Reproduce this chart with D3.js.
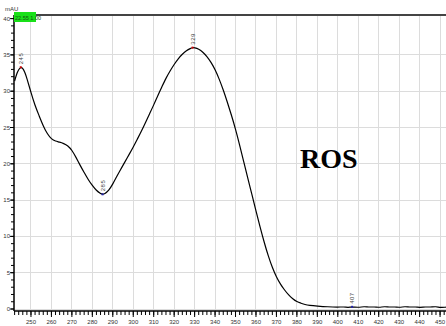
<!DOCTYPE html>
<html><head><meta charset="utf-8">
<script src="https://cdn.jsdelivr.net/npm/d3@7"></script>
<style>body{margin:0;background:#fff}svg{display:block}</style>
</head><body><svg id="c" width="446" height="326"></svg>
<script>
const wavelengths = [242,243,244,245,246,247,248,250,252,254,256,258,260,262,264,266,268,270,272,274,276,278,280,282,284,285,286,288,290,292,294,296,298,300,302,304,306,308,310,312,314,316,318,320,322,324,326,328,329,330,332,334,336,338,340,342,344,346,348,350,352,354,356,358,360,362,364,366,368,370,372,374,376,378,380,382,384,386,390,395,400,403,405,407,410,413,415,418,420,423,425,428,430,433,435,438,440,443,445,448,450,453];
const absorbance = [31.4,32.4,33.0,33.3,33.2,32.6,31.8,29.8,28.0,26.6,25.2,24.1,23.4,23.1,23.0,22.8,22.5,21.9,20.9,19.8,18.8,17.8,17.0,16.3,15.9,15.8,15.85,16.3,17.2,18.3,19.3,20.3,21.3,22.3,23.4,24.5,25.7,26.9,28.1,29.4,30.6,31.8,32.8,33.7,34.5,35.1,35.6,35.9,36.0,36.0,35.8,35.4,34.8,34.0,33.0,31.7,30.2,28.5,26.7,24.8,22.6,20.3,18.0,15.8,13.5,11.3,9.2,7.3,5.7,4.4,3.4,2.6,1.9,1.4,1.0,0.8,0.6,0.5,0.4,0.3,0.25,0.3,0.2,0.3,0.2,0.35,0.25,0.3,0.2,0.35,0.25,0.3,0.2,0.35,0.25,0.3,0.2,0.3,0.25,0.35,0.2,0.25];
const peakLabels = ["245","285","329","407"];
const peakWl = [245,285,329,407];
const xTicks = [250,260,270,280,290,300,310,320,330,340,350,360,370,380,390,400,410,420,430,440,450];
const yTicks = [0,5,10,15,20,25,30,35,40];
const unitLabel = "mAU";
const sampleLabel = "ROS";
const timeLabel = "22.55 1.00";

const svg = d3.select("#c");
const x = d3.scaleLinear().domain([241.7, 452.9]).range([14, 446]);
const y = d3.scaleLinear().domain([0, 40]).range([309, 18.6]);
const yTop = 15, yBot = 311;

// grid
svg.append("g").selectAll("line").data(xTicks).join("line")
  .attr("x1", d=>x(d)).attr("x2", d=>x(d)).attr("y1", yTop).attr("y2", yBot)
  .attr("stroke", "#dcdcdc").attr("stroke-width", 1).attr("shape-rendering","crispEdges");
svg.append("g").selectAll("line").data(yTicks.slice(0,-1)).join("line")
  .attr("x1", 14).attr("x2", 446).attr("y1", d=>y(d)).attr("y2", d=>y(d))
  .attr("stroke", "#dcdcdc").attr("stroke-width", 1).attr("shape-rendering","crispEdges");

// top frame line
svg.append("line").attr("x1",14).attr("x2",446).attr("y1",yTop).attr("y2",yTop)
  .attr("stroke","#444").attr("stroke-width",2);

// X axis
const xAxisG = svg.append("g").attr("transform", `translate(0,${yBot})`);
xAxisG.append("line").attr("x1",14).attr("x2",446).attr("stroke","#000").attr("stroke-width",1.5);
const xMinor = d3.range(242, 454, 2);
xAxisG.selectAll(".mn").data(xMinor).join("line")
  .attr("x1",d=>x(d)).attr("x2",d=>x(d)).attr("y1",0).attr("y2",4)
  .attr("stroke","#000").attr("stroke-width",1);
xAxisG.selectAll(".mj").data(xTicks).join("line")
  .attr("x1",d=>x(d)).attr("x2",d=>x(d)).attr("y1",0).attr("y2",6)
  .attr("stroke","#000").attr("stroke-width",1);
xAxisG.selectAll("text").data(xTicks).join("text")
  .attr("x",d=>x(d)).attr("y",13).attr("text-anchor","middle")
  .attr("font-family","Liberation Sans Narrow, Liberation Sans, sans-serif").attr("font-size",6)
  .attr("fill","#333").text(d=>d);

// Y axis
const yAxisG = svg.append("g");
yAxisG.append("line").attr("x1",14).attr("x2",14).attr("y1",yTop).attr("y2",yBot)
  .attr("stroke","#000").attr("stroke-width",1.5);
yAxisG.selectAll(".mn").data(d3.range(0,41,1)).join("line")
  .attr("x1",11).attr("x2",14).attr("y1",d=>y(d)).attr("y2",d=>y(d))
  .attr("stroke","#000").attr("stroke-width",1);
yAxisG.selectAll(".mj").data(yTicks).join("line")
  .attr("x1",10).attr("x2",14).attr("y1",d=>y(d)).attr("y2",d=>y(d))
  .attr("stroke","#000").attr("stroke-width",1);
yAxisG.selectAll("text").data(yTicks).join("text")
  .attr("x",10).attr("y",d=>y(d)+2).attr("text-anchor","end")
  .attr("font-family","Liberation Sans Narrow, Liberation Sans, sans-serif").attr("font-size",6)
  .attr("fill","#333").text(d=>d);
svg.append("text").attr("x",5).attr("y",11).attr("font-family","Liberation Sans Narrow, Liberation Sans, sans-serif")
  .attr("font-size",6).attr("fill","#333").text(unitLabel);

// green time box
svg.append("rect").attr("x",14).attr("y",12).attr("width",22).attr("height",10).attr("fill","#19e019");
svg.append("text").attr("x",15).attr("y",19.5).attr("font-family","Liberation Sans Narrow, sans-serif")
  .attr("font-size",5.5).attr("fill","#115511").text(timeLabel);

// curve
const pts = wavelengths.map((w,i)=>[w, absorbance[i]]);
svg.append("path").datum(pts)
  .attr("d", d3.line().x(d=>x(d[0])).y(d=>y(d[1])).curve(d3.curveBasis))
  .attr("fill","none").attr("stroke","#000").attr("stroke-width",1.2);

// peak labels
const interp = w => {
  const i = d3.bisectLeft(wavelengths, w);
  if (wavelengths[i] === w) return absorbance[i];
  const t = (w - wavelengths[i-1])/(wavelengths[i]-wavelengths[i-1]);
  return absorbance[i-1] + t*(absorbance[i]-absorbance[i-1]);
};
const markColors = ["#c00","#22a","#c00","#22a"];
peakWl.forEach((w,i)=>{
  const px = x(w), py = y(interp(w));
  svg.append("rect").attr("x",px-1).attr("y",py-1).attr("width",2).attr("height",2).attr("fill",markColors[i]);
  svg.append("text").attr("transform",`translate(${px+2},${py-3}) rotate(-90)`)
    .attr("font-family","Liberation Sans, sans-serif").attr("font-size",6).attr("fill","#444")
    .attr("letter-spacing",0.5).text(peakLabels[i]);
});

// sample label
svg.append("text").attr("x",300).attr("y",168).attr("font-family","Liberation Serif, Times New Roman, serif")
  .attr("font-weight","bold").attr("font-size",28).attr("fill","#000").text(sampleLabel);
</script></body></html>
